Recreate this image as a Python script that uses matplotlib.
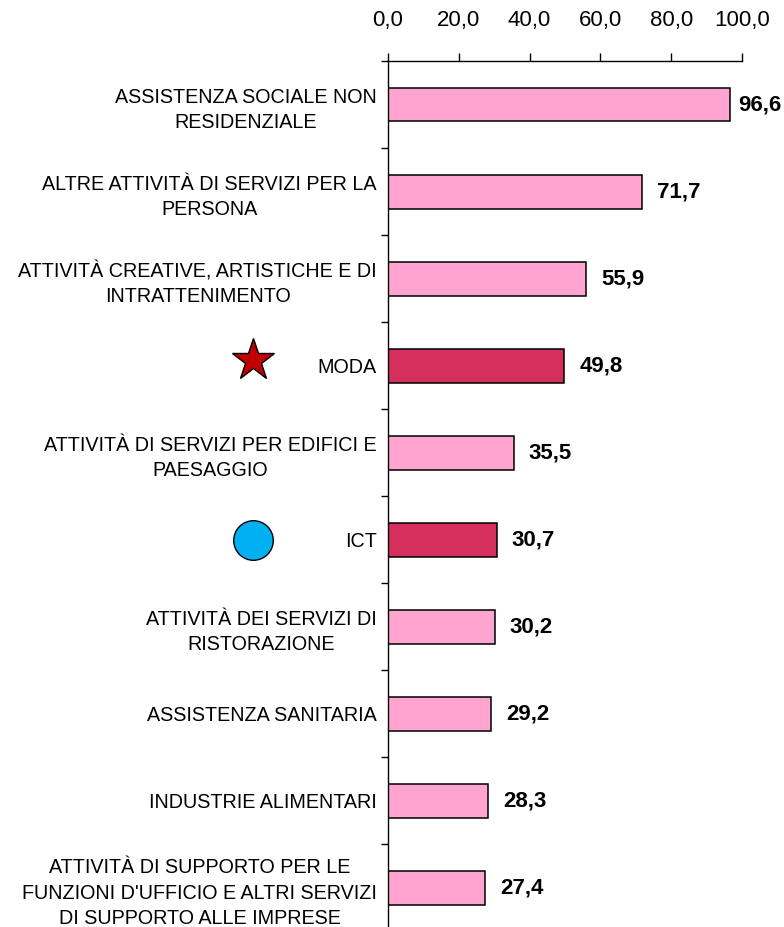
import matplotlib
matplotlib.use('Agg')
import matplotlib.pyplot as plt
import numpy as np

# Data
categories = [
    "ASSISTENZA SOCIALE NON\nRESIDENZIALE",
    "ALTRE ATTIVITÀ DI SERVIZI PER LA\nPERSONA",
    "ATTIVITÀ CREATIVE, ARTISTICHE E DI\nINTRATTENIMENTO",
    "MODA",
    "ATTIVITÀ DI SERVIZI PER EDIFICI E\nPAESAGGIO",
    "ICT",
    "ATTIVITÀ DEI SERVIZI DI\nRISTORAZIONE",
    "ASSISTENZA SANITARIA",
    "INDUSTRIE ALIMENTARI",
    "ATTIVITÀ DI SUPPORTO PER LE\nFUNZIONI D'UFFICIO E ALTRI SERVIZI\nDI SUPPORTO ALLE IMPRESE",
]
values = [96.6, 71.7, 55.9, 49.8, 35.5, 30.7, 30.2, 29.2, 28.3, 27.4]
highlighted = ["MODA", "ICT"]
x_ticks = [0, 20, 40, 60, 80, 100]

light_pink = '#FFA5D0'
dark_pink = '#D52F5E'

font = ['Liberation Sans', 'DejaVu Sans']

fig = plt.figure(figsize=(7.84, 9.27), dpi=100)
ax = fig.add_axes([0.4949, -0.0049, 0.4515, 0.9391])

y = np.arange(len(categories))
colors = [dark_pink if c in highlighted else light_pink for c in categories]
ax.barh(y, values, height=0.39, color=colors, edgecolor='black', linewidth=1.1)

ax.set_xlim(0, 100)
ax.set_ylim(len(categories) - 0.5, -0.5)

# x axis on top
ax.xaxis.tick_top()
ax.set_xticks(x_ticks)
ax.set_xticklabels([f'{t:.1f}'.replace('.', ',') for t in x_ticks],
                   family=font, fontsize=16)
ax.tick_params(axis='x', direction='out', length=5.8, width=1, pad=16)

# y axis: labels at categories, ticks at boundaries
ax.set_yticks(y)
ax.set_yticklabels(categories, family=font, fontsize=14.2,
                   multialignment='center', linespacing=1.42)
ax.set_yticks(np.arange(len(categories) + 1) - 0.5, minor=True)
ax.tick_params(axis='y', which='major', length=0, pad=8)
ax.tick_params(axis='y', which='minor', direction='out', length=5, width=1)

for s in ['right', 'bottom']:
    ax.spines[s].set_visible(False)
for s in ['left', 'top']:
    ax.spines[s].set_linewidth(1)

# value labels
for yi, v in zip(y, values):
    off = 8 if v > 90 else 15
    ax.annotate(f'{v:.1f}'.replace('.', ','), xy=(v, yi), xytext=(off, 0),
                textcoords='offset pixels', va='center', ha='left',
                family=font, fontsize=16, fontweight='bold',
                annotation_clip=False)

# symbols next to the highlighted sectors
trans = ax.get_yaxis_transform()
ax.plot([-0.381], [categories.index("MODA") - 0.07], marker='*', markersize=32,
        color='#C00000', markeredgecolor='black', markeredgewidth=1,
        transform=trans, clip_on=False)
ax.plot([-0.381], [categories.index("ICT")], marker='o', markersize=28.5,
        color='#00B0F0', markeredgecolor='black', markeredgewidth=1,
        transform=trans, clip_on=False)

fig.savefig('out.png', dpi=100)
